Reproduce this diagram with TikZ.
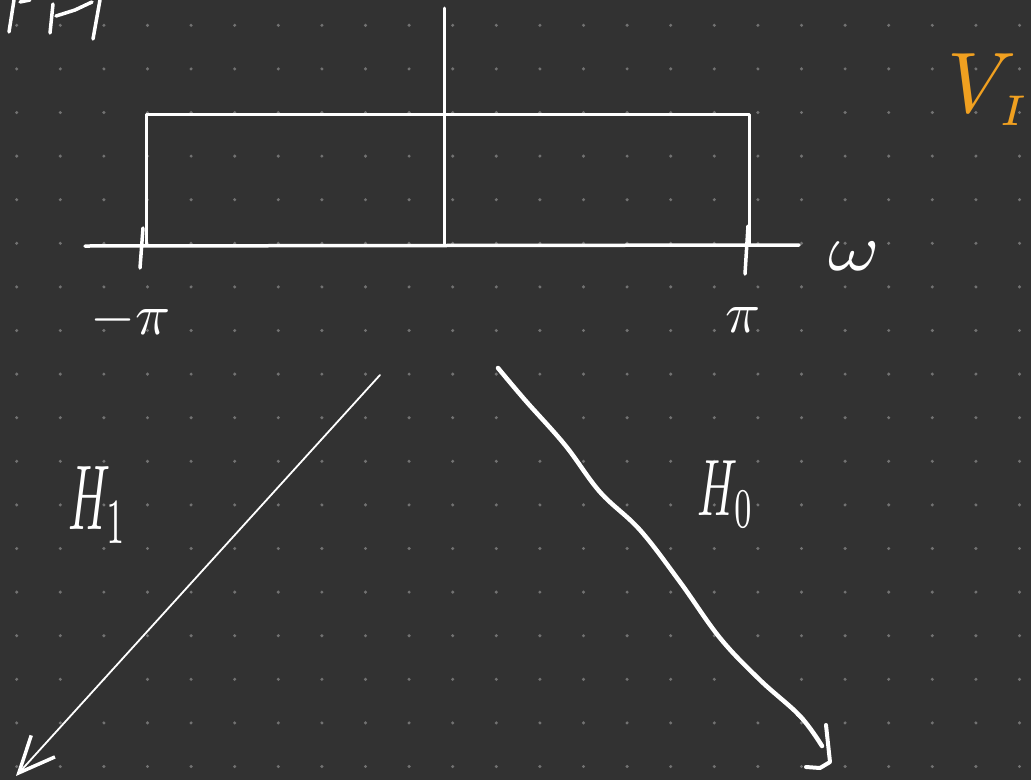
\documentclass[tikz,border=0pt]{standalone}
\usepackage{amsmath,amsfonts,amssymb}
\usepackage{xcolor}
\usetikzlibrary{arrows.meta}

\definecolor{pizarra}{HTML}{323232}
\definecolor{punto}{HTML}{727272}
\definecolor{naranja}{HTML}{F0A020}

\tikzset{
  tiza/.style={white, line width=3.5pt, line cap=round, line join=round},
  etiqueta/.style={white, inner sep=0pt, transform shape},
}

\begin{document}
\begin{tikzpicture}[x=1pt, y=-1pt]
	% Fondo de la pizarra
	\fill[pizarra] (0,0) rectangle (1031,780);
	\useasboundingbox (0,0) rectangle (1031,780);
	% Cuadricula de puntos
	\foreach \i in {0,...,23}
	  \foreach \j in {0,...,17}
	    \fill[punto] (16.7+43.6*\i, 25.3+43.6*\j) circle (1.7);
	% Trazos cortados arriba a la izquierda
	\draw[tiza] (14,0) -- (9,32);
	\draw[tiza] (20,2) -- (30,0);
	\draw[tiza] (53,4) -- (50,33);
	\draw[tiza] (56,16) -- (75,10) -- (92,2);
	\draw[tiza] (100,0) -- (93,39);
	% Eje de las frecuencias
	\coordinate (ejeizq) at (85,246);
	\coordinate (ejeder) at (799,245);
	\draw[tiza] (ejeizq) -- (ejeder);
	% Eje vertical
	\coordinate (ejearr) at (444,8);
	\coordinate (ejeaba) at (444,245);
	\draw[tiza, line width=3pt] (ejearr) -- (ejeaba);
	% Respuesta rectangular
	\draw[tiza, line width=3pt] (146,245) -- (146,114) -- (749,114) -- (749,245);
	% Marcas en -pi y pi
	\draw[tiza] (143,228) -- (140,268);
	\draw[tiza] (748,226) -- (745,274);
	\node[etiqueta, scale=5.8] (menospi) at (131,320) {$-\pi$};
	\node[etiqueta, scale=5.8] (pi) at (743,320) {$\pi$};
	\node[etiqueta, xscale=7.8, yscale=6.6] (omega) at (854,256) {$\omega$};
	% Rama hacia H1
	\coordinate (ramaizq) at (380,375);
	\coordinate (puntaizq) at (16,776);
	\draw[white, line width=1.8pt, line cap=round, -{Straight Barb[length=36pt, width=32pt, line width=3.5pt]}] (ramaizq) -- (puntaizq);
	\node[etiqueta, xscale=4.6, yscale=9.2] (huno) at (98,505) {$H_{1}$};
	% Rama hacia H0
	\coordinate (ramader) at (498,368);
	\coordinate (puntader) at (822,746);
	\draw[tiza, line width=4.5pt] plot[smooth, tension=0.6] coordinates {(ramader) (525,400) (565,445) (600,492) (640,530) (680,582) (720,638) (760,680) (800,716) (puntader)};
	\draw[tiza] (797,714) -- (804,720);
	\draw[tiza, line width=4pt] (826,725) -- (830,762) -- (820,768) -- (806,767);
	\node[etiqueta, xscale=4.4, yscale=8] (hcero) at (726,494) {$H_{0}$};
	% Etiqueta en naranja
	\node[etiqueta, naranja, scale=8.6] (vi) at (990,90) {$V_{\scriptscriptstyle I}$};
\end{tikzpicture}
\end{document}
